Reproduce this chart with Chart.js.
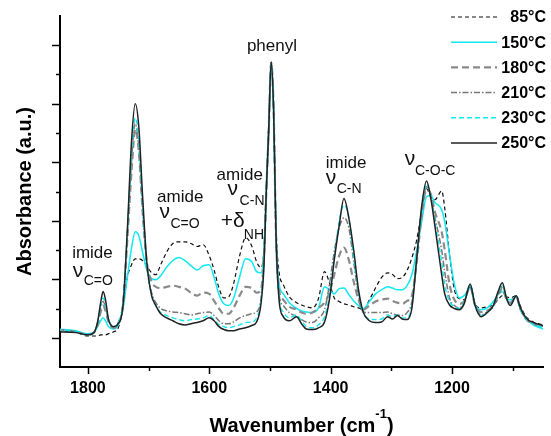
<!DOCTYPE html>
<html>
<head>
<meta charset="utf-8">
<script src="https://cdn.jsdelivr.net/npm/chart.js@4.4.0/dist/chart.umd.min.js"></script>
<style>
  html, body { margin: 0; padding: 0; background: #fff; }
</style>
</head>
<body>
<canvas id="irChart" width="551" height="436"></canvas>
<script>
// shared wavenumber axis (cm-1)
const wavenumbers = [
  1850, 1820, 1800, 1790, 1784, 1779, 1775, 1771, 1766, 1758,
  1750, 1742, 1735, 1728, 1722, 1716, 1710, 1703, 1695, 1688,
  1680, 1670, 1660, 1650, 1640, 1630, 1620, 1610, 1600, 1592,
  1584, 1576, 1568, 1560, 1550, 1540, 1530, 1522, 1515, 1510,
  1506, 1502, 1498, 1494, 1490, 1485, 1478, 1468, 1456, 1448,
  1440, 1430, 1420, 1410, 1402, 1394, 1386, 1378, 1370, 1362,
  1354, 1346, 1336, 1326, 1316, 1306, 1298, 1290, 1282, 1274,
  1266, 1258, 1250, 1242, 1235, 1228, 1217, 1212, 1204, 1196,
  1188, 1180, 1170, 1162, 1152, 1142, 1132, 1124, 1117, 1110,
  1104, 1094, 1088, 1078, 1066, 1050
];

const abs85 = [
  0.12, 0.09, 0.03, 0.03, 0.03, 0.05, 0.05, 0.05, 0.07, 0.10,
  0.17, 0.51, 1.03, 1.25, 1.35, 1.35, 1.32, 1.23, 1.11, 1.08,
  1.25, 1.47, 1.61, 1.64, 1.64, 1.61, 1.56, 1.59, 1.40, 1.16,
  0.85, 0.68, 0.70, 0.92, 1.40, 1.71, 1.57, 1.30, 1.20, 1.50,
  2.62, 3.64, 4.70, 3.93, 1.93, 1.13, 0.91, 0.70, 0.60, 0.56,
  0.53, 0.51, 0.67, 1.13, 0.94, 0.68, 0.62, 0.58, 0.56, 0.53,
  0.51, 0.48, 0.65, 0.85, 1.03, 1.11, 1.08, 1.01, 1.03, 1.15,
  1.37, 1.68, 2.15, 2.55, 2.41, 2.36, 2.51, 2.22, 1.42, 0.82,
  0.67, 0.65, 0.87, 0.58, 0.51, 0.53, 0.56, 0.65, 0.72, 0.70,
  0.68, 0.72, 0.56, 0.36, 0.27, 0.22
];

const abs150 = [
  0.15, 0.12, 0.07, 0.09, 0.19, 0.29, 0.34, 0.29, 0.19, 0.15,
  0.22, 0.51, 1.03, 1.54, 1.81, 1.74, 1.47, 1.16, 1.01, 0.99,
  1.06, 1.21, 1.32, 1.37, 1.32, 1.23, 1.16, 1.23, 1.25, 1.03,
  0.74, 0.58, 0.55, 0.67, 1.04, 1.35, 1.30, 1.13, 1.11, 1.47,
  2.53, 3.56, 4.65, 3.90, 1.81, 0.92, 0.75, 0.60, 0.50, 0.46,
  0.44, 0.43, 0.51, 0.87, 0.82, 0.75, 0.84, 0.85, 0.74, 0.63,
  0.55, 0.50, 0.62, 0.75, 0.82, 0.87, 0.85, 0.82, 0.82, 0.89,
  1.08, 1.50, 1.98, 2.41, 2.43, 2.31, 2.19, 1.98, 1.42, 0.91,
  0.68, 0.72, 0.85, 0.56, 0.48, 0.51, 0.62, 0.74, 0.79, 0.67,
  0.65, 0.70, 0.51, 0.34, 0.22, 0.15
];

const abs180 = [
  0.14, 0.10, 0.05, 0.09, 0.22, 0.44, 0.55, 0.46, 0.27, 0.17,
  0.24, 0.58, 1.68, 2.87, 3.56, 3.18, 2.19, 1.30, 0.96, 0.87,
  0.85, 0.87, 0.89, 0.87, 0.84, 0.77, 0.72, 0.77, 0.75, 0.63,
  0.50, 0.41, 0.41, 0.51, 0.72, 0.87, 0.85, 0.77, 0.82, 1.37,
  2.50, 3.56, 4.70, 3.93, 1.74, 0.82, 0.65, 0.53, 0.48, 0.43,
  0.41, 0.43, 0.51, 0.60, 0.77, 1.08, 1.40, 1.54, 1.33, 0.96,
  0.65, 0.48, 0.55, 0.62, 0.65, 0.67, 0.63, 0.60, 0.58, 0.63,
  0.72, 1.30, 2.10, 2.53, 2.46, 2.15, 1.81, 1.50, 0.91, 0.65,
  0.58, 0.62, 0.87, 0.56, 0.44, 0.46, 0.55, 0.72, 0.85, 0.65,
  0.60, 0.70, 0.51, 0.32, 0.24, 0.19
];

const abs210 = [
  0.14, 0.10, 0.05, 0.09, 0.26, 0.51, 0.62, 0.53, 0.31, 0.19,
  0.26, 0.62, 1.76, 3.04, 3.66, 3.25, 2.22, 1.23, 0.77, 0.60,
  0.50, 0.46, 0.44, 0.43, 0.41, 0.39, 0.41, 0.43, 0.44, 0.38,
  0.29, 0.24, 0.24, 0.27, 0.34, 0.38, 0.41, 0.44, 0.65, 1.30,
  2.44, 3.56, 4.70, 3.93, 1.74, 0.74, 0.55, 0.43, 0.36, 0.31,
  0.27, 0.26, 0.34, 0.48, 0.91, 1.47, 1.88, 2.05, 1.88, 1.30,
  0.72, 0.44, 0.43, 0.43, 0.43, 0.44, 0.41, 0.39, 0.38, 0.43,
  0.62, 1.37, 2.15, 2.58, 2.39, 2.05, 1.50, 1.13, 0.68, 0.55,
  0.51, 0.60, 0.89, 0.56, 0.39, 0.44, 0.53, 0.74, 0.89, 0.67,
  0.58, 0.72, 0.51, 0.32, 0.24, 0.19
];

const abs230 = [
  0.14, 0.10, 0.05, 0.09, 0.26, 0.55, 0.68, 0.56, 0.32, 0.19,
  0.26, 0.62, 1.81, 3.18, 3.76, 3.35, 2.27, 1.25, 0.72, 0.55,
  0.43, 0.38, 0.34, 0.31, 0.29, 0.31, 0.32, 0.34, 0.38, 0.31,
  0.22, 0.19, 0.17, 0.19, 0.22, 0.26, 0.27, 0.34, 0.62, 1.30,
  2.44, 3.56, 4.68, 3.93, 1.74, 0.68, 0.44, 0.34, 0.39, 0.29,
  0.19, 0.17, 0.22, 0.36, 0.72, 1.37, 1.98, 2.27, 2.05, 1.37,
  0.77, 0.43, 0.32, 0.31, 0.32, 0.39, 0.36, 0.39, 0.34, 0.34,
  0.56, 1.37, 2.19, 2.63, 2.43, 1.98, 1.30, 0.91, 0.62, 0.53,
  0.50, 0.60, 0.91, 0.56, 0.38, 0.43, 0.55, 0.77, 0.91, 0.67,
  0.56, 0.72, 0.51, 0.32, 0.24, 0.17
];

const abs250 = [
  0.10, 0.09, 0.05, 0.09, 0.27, 0.60, 0.79, 0.65, 0.31, 0.19,
  0.24, 0.56, 1.85, 3.38, 4.00, 3.59, 2.44, 1.30, 0.72, 0.55,
  0.41, 0.34, 0.29, 0.24, 0.22, 0.24, 0.26, 0.29, 0.34, 0.29,
  0.19, 0.14, 0.12, 0.12, 0.15, 0.17, 0.21, 0.27, 0.56, 1.20,
  2.50, 3.56, 4.72, 3.90, 1.76, 0.65, 0.36, 0.29, 0.36, 0.24,
  0.15, 0.14, 0.17, 0.27, 0.65, 1.33, 1.91, 2.38, 2.05, 1.50,
  0.82, 0.43, 0.29, 0.26, 0.27, 0.36, 0.32, 0.38, 0.32, 0.31,
  0.51, 1.37, 2.24, 2.68, 2.39, 1.90, 1.08, 0.75, 0.56, 0.50,
  0.48, 0.58, 0.92, 0.55, 0.36, 0.43, 0.55, 0.79, 0.94, 0.67,
  0.55, 0.72, 0.53, 0.34, 0.26, 0.21
];

const seriesLabels = ["85°C", "150°C", "180°C", "210°C", "230°C", "250°C"];
const xTickLabels = [1800, 1600, 1400, 1200];
const xMinorTicks = [1700, 1500, 1300, 1100];
const yMajorTicks = [0, 1, 2, 3, 4, 5];
const yMinorTicks = [0.5, 1.5, 2.5, 3.5, 4.5];

const FONT = "'Liberation Sans', Arial, sans-serif";
Chart.defaults.font.family = FONT;
Chart.defaults.color = "#000";

function toPoints(values) {
  return wavenumbers.map((w, i) => ({ x: w, y: values[i] }));
}

// band labels, anchored in data space (wavenumber, absorbance)
const bandLabels = [
  { text: "imide", wn: 1826, a: 1.37, size: 17 },
  { text: "ν", wn: 1825, a: 1.04, size: 21 },
  { text: "C=O", wn: 1807, a: 0.91, size: 14 },
  { text: "amide", wn: 1686, a: 2.32, size: 17 },
  { text: "ν", wn: 1682, a: 2.05, size: 21 },
  { text: "C=O", wn: 1664, a: 1.88, size: 14 },
  { text: "amide", wn: 1588, a: 2.70, size: 17 },
  { text: "ν", wn: 1570, a: 2.44, size: 21 },
  { text: "C-N", wn: 1550, a: 2.27, size: 14 },
  { text: "+δ", wn: 1581, a: 1.90, size: 21 },
  { text: "NH", wn: 1543, a: 1.68, size: 14 },
  { text: "phenyl", wn: 1538, a: 4.91, size: 17 },
  { text: "imide", wn: 1408, a: 2.91, size: 17 },
  { text: "ν", wn: 1408, a: 2.62, size: 21 },
  { text: "C-N", wn: 1390, a: 2.48, size: 14 },
  { text: "ν", wn: 1278, a: 2.96, size: 21 },
  { text: "C-O-C", wn: 1261, a: 2.79, size: 14 },
];

const extrasPlugin = {
  id: "extras",
  afterDraw(chart) {
    const { ctx, chartArea, scales } = chart;
    const xs = scales.x;
    const ys = scales.y;
    ctx.save();

    // tick marks
    ctx.strokeStyle = "#000";
    ctx.lineWidth = 1.5;
    const mark = (x1, y1, x2, y2) => {
      ctx.beginPath();
      ctx.moveTo(x1, y1);
      ctx.lineTo(x2, y2);
      ctx.stroke();
    };
    xTickLabels.forEach((v) => {
      const px = Math.round(xs.getPixelForValue(v)) + 0.5;
      mark(px, chartArea.bottom, px, chartArea.bottom + 7);
    });
    xMinorTicks.forEach((v) => {
      const px = Math.round(xs.getPixelForValue(v)) + 0.5;
      mark(px, chartArea.bottom, px, chartArea.bottom + 4);
    });
    yMajorTicks.forEach((v) => {
      const py = Math.round(ys.getPixelForValue(v)) + 0.5;
      mark(chartArea.left - 8, py, chartArea.left, py);
    });
    yMinorTicks.forEach((v) => {
      const py = Math.round(ys.getPixelForValue(v)) + 0.5;
      mark(chartArea.left - 4, py, chartArea.left, py);
    });

    // axis titles
    ctx.fillStyle = "#000";
    ctx.textBaseline = "alphabetic";
    ctx.save();
    ctx.translate(31, (chartArea.top + chartArea.bottom) / 2);
    ctx.rotate(-Math.PI / 2);
    ctx.textAlign = "center";
    ctx.font = "bold 20px " + FONT;
    ctx.fillText("Absorbance (a.u.)", 0, 0);
    ctx.restore();

    ctx.textAlign = "left";
    ctx.font = "bold 20px " + FONT;
    const partA = "Wavenumber (cm";
    const wA = ctx.measureText(partA).width;
    const wC = ctx.measureText(")").width;
    ctx.font = "bold 13px " + FONT;
    const wB = ctx.measureText("-1").width;
    let tx = (chartArea.left + chartArea.right) / 2 - (wA + wB + wC) / 2;
    ctx.font = "bold 20px " + FONT;
    ctx.fillText(partA, tx, 432);
    ctx.font = "bold 13px " + FONT;
    ctx.fillText("-1", tx + wA, 418);
    ctx.font = "bold 20px " + FONT;
    ctx.fillText(")", tx + wA + wB, 432);

    // band labels
    ctx.fillStyle = "#111";
    bandLabels.forEach((l) => {
      ctx.font = l.size + "px " + FONT;
      ctx.fillText(l.text, xs.getPixelForValue(l.wn), ys.getPixelForValue(l.a));
    });

    // legend
    chart.data.datasets.forEach((ds, i) => {
      const rowY = 17 + i * 25.2;
      ctx.strokeStyle = ds.borderColor;
      ctx.lineWidth = ds.borderWidth;
      ctx.setLineDash(ds.borderDash || []);
      ctx.beginPath();
      ctx.moveTo(451, rowY);
      ctx.lineTo(497, rowY);
      ctx.stroke();
      ctx.setLineDash([]);
      ctx.fillStyle = "#000";
      ctx.font = "bold 16px " + FONT;
      ctx.textAlign = "right";
      ctx.textBaseline = "middle";
      ctx.fillText(ds.label, 546, rowY + 1);
      ctx.textAlign = "left";
      ctx.textBaseline = "alphabetic";
    });

    ctx.restore();
  },
};

const lineDefaults = {
  pointRadius: 0,
  fill: false,
  cubicInterpolationMode: "monotone",
};

new Chart(document.getElementById("irChart"), {
  type: "line",
  data: {
    datasets: [
      { ...lineDefaults, label: seriesLabels[0], data: toPoints(abs85), borderColor: "#111", borderWidth: 1.2, borderDash: [4, 3], order: 5 },
      { ...lineDefaults, label: seriesLabels[1], data: toPoints(abs150), borderColor: "#10e8f2", borderWidth: 1.5, order: 4 },
      { ...lineDefaults, label: seriesLabels[2], data: toPoints(abs180), borderColor: "#8a8a8a", borderWidth: 2.2, borderDash: [7, 4], order: 3 },
      { ...lineDefaults, label: seriesLabels[3], data: toPoints(abs210), borderColor: "#777", borderWidth: 1.5, borderDash: [6, 2, 1.5, 2], order: 2 },
      { ...lineDefaults, label: seriesLabels[4], data: toPoints(abs230), borderColor: "#10e8f2", borderWidth: 1.4, borderDash: [5, 3], order: 1 },
      { ...lineDefaults, label: seriesLabels[5], data: toPoints(abs250), borderColor: "#222", borderWidth: 1.5, order: 0 },
    ],
  },
  options: {
    responsive: false,
    animation: false,
    layout: { padding: { top: 16, right: 8, left: 0, bottom: 0 } },
    plugins: {
      legend: { display: false },
      tooltip: { enabled: false },
    },
    scales: {
      x: {
        type: "linear",
        reverse: true,
        min: 1050,
        max: 1846,
        afterBuildTicks: (scale) => {
          scale.ticks = xTickLabels.map((v) => ({ value: v }));
        },
        afterFit: (scale) => {
          scale.height = 69;
        },
        ticks: {
          font: { size: 16, weight: "bold" },
          color: "#000",
          padding: 5,
          maxRotation: 0,
          autoSkip: false,
          callback: (v) => String(v),
        },
        grid: { drawOnChartArea: false, tickLength: 7, color: "rgba(0,0,0,0)" },
        border: { display: true, color: "#000", width: 2 },
      },
      y: {
        type: "linear",
        min: -0.5,
        max: 5.5,
        afterBuildTicks: (scale) => {
          scale.ticks = yMajorTicks.map((v) => ({ value: v }));
        },
        afterFit: (scale) => {
          scale.width = 60;
        },
        ticks: { display: false },
        grid: { drawOnChartArea: false, tickLength: 8, color: "rgba(0,0,0,0)" },
        border: { display: true, color: "#000", width: 2 },
      },
    },
  },
  plugins: [extrasPlugin],
});
</script>
</body>
</html>
